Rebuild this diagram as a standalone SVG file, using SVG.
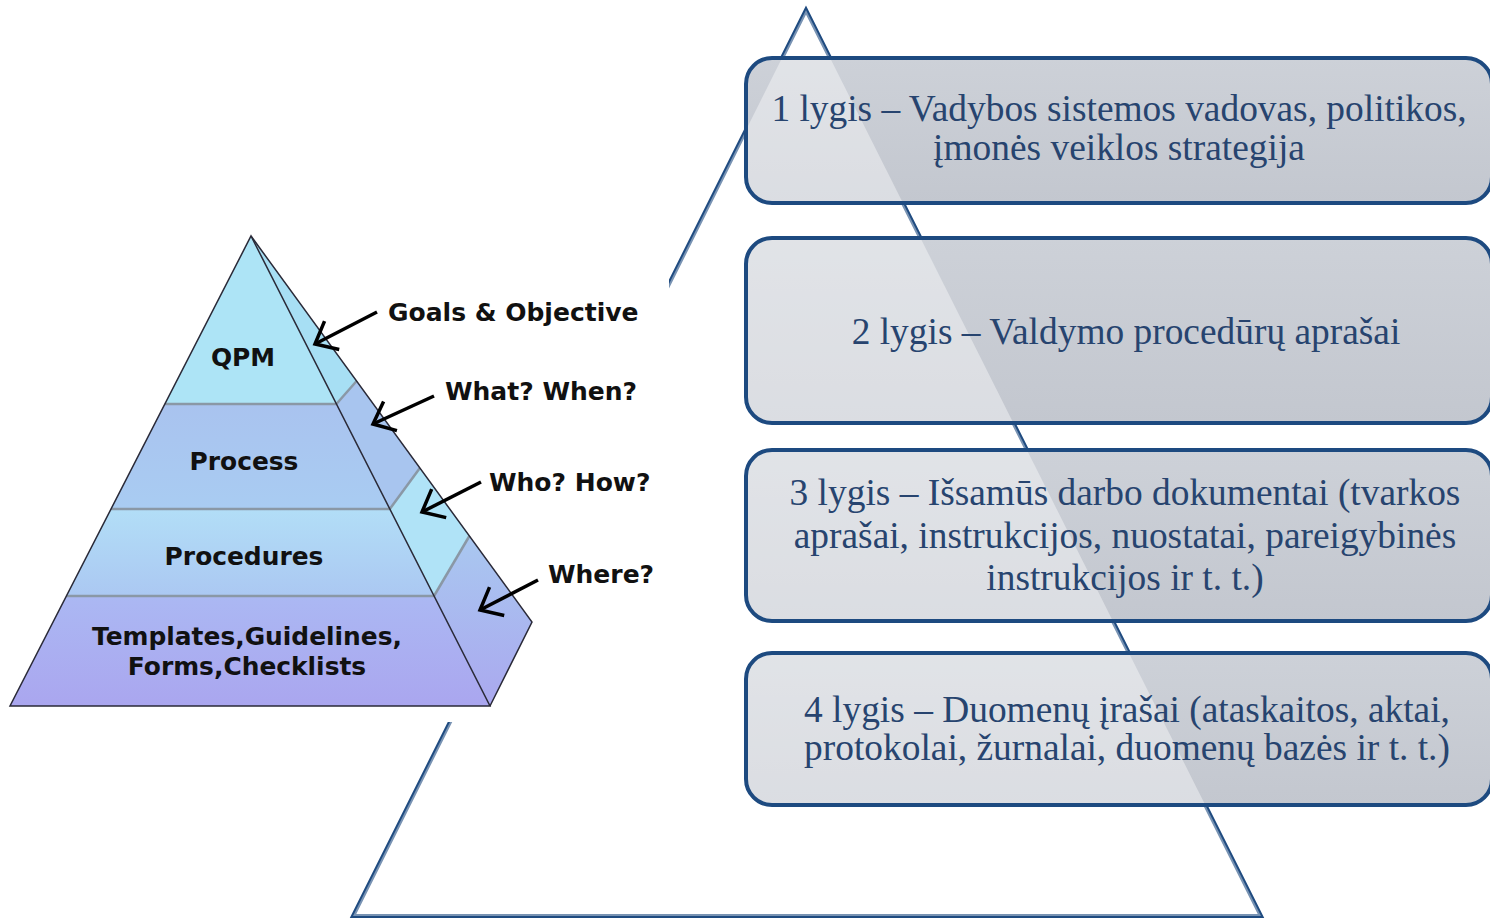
<svg xmlns="http://www.w3.org/2000/svg" width="1490" height="918" viewBox="0 0 1490 918">
<defs>
<style>
.bx{fill:url(#boxg);stroke:none}
.bxs{fill:none;stroke:#1d4a80;stroke-width:4}
.bt{font-family:"Liberation Serif","Times New Roman",serif;font-size:37.4px;fill:#27446f;text-anchor:middle}
.pt{font-family:"DejaVu Sans",Verdana,sans-serif;font-weight:bold;font-size:24.9px;fill:#111;text-anchor:middle}
.lb{font-family:"DejaVu Sans",Verdana,sans-serif;font-weight:bold;font-size:25px;fill:#111}
.sep{stroke:#8a98a6;stroke-width:2.5;fill:none}
.edge{stroke:#2a2a38;stroke-width:1.5;fill:none}
.arr{stroke:#000;stroke-width:3.5;fill:none;marker-end:url(#v)}
</style>
<linearGradient id="boxg" x1="0" y1="0" x2="0" y2="1">
<stop offset="0" stop-color="#cdd1d8"/>
<stop offset="1" stop-color="#c3c7cf"/>
</linearGradient>
<linearGradient id="g2" x1="0" y1="0" x2="0" y2="1">
<stop offset="0" stop-color="#a9c3ef"/><stop offset="1" stop-color="#a9ccf2"/>
</linearGradient>
<linearGradient id="g3" x1="0" y1="0" x2="0" y2="1">
<stop offset="0" stop-color="#b2def7"/><stop offset="1" stop-color="#abc8f2"/>
</linearGradient>
<linearGradient id="g4" x1="0" y1="0" x2="0" y2="1">
<stop offset="0" stop-color="#abb8f3"/><stop offset="1" stop-color="#aaa6ef"/>
</linearGradient>
<linearGradient id="g5" x1="0" y1="0" x2="0" y2="1">
<stop offset="0" stop-color="#a9c8f0"/><stop offset="1" stop-color="#aaa8ef"/>
</linearGradient>
<marker id="v" markerUnits="userSpaceOnUse" markerWidth="50" markerHeight="50" viewBox="-25 -25 50 50" refX="0" refY="0" orient="auto" overflow="visible">
<path d="M-19,-16 L0,0 L-19,16" fill="none" stroke="#000" stroke-width="3.5"/>
</marker>
</defs>
<rect width="1490" height="918" fill="#fff"/>

<g id="big-triangle-outline">
<polygon points="806,10 353,916 1261,916" fill="none" stroke="#1f4b80" stroke-width="4" stroke-linejoin="miter"/>
</g>

<g id="level-boxes-fill">
<rect class="bx" x="746" y="58" width="746" height="145" rx="26"/>
<rect class="bx" x="746" y="238" width="746" height="185" rx="26"/>
<rect class="bx" x="746" y="450" width="746" height="171" rx="26"/>
<rect class="bx" x="746" y="653" width="746" height="152" rx="26"/>
</g>
<polygon id="triangle-glow" points="806,10 353,916 1261,916" fill="#ffffff" fill-opacity="0.4"/>

<g id="level1">
<rect class="bxs" x="746" y="58" width="746" height="145" rx="26"/>
<text class="bt" x="1119" y="121">1 lygis – Vadybos sistemos vadovas, politikos,</text>
<text class="bt" x="1119" y="160">įmonės veiklos strategija</text>
</g>
<g id="level2">
<rect class="bxs" x="746" y="238" width="746" height="185" rx="26"/>
<text class="bt" x="1126" y="344">2 lygis – Valdymo procedūrų aprašai</text>
</g>
<g id="level3">
<rect class="bxs" x="746" y="450" width="746" height="171" rx="26"/>
<text class="bt" x="1125" y="505">3 lygis – Išsamūs darbo dokumentai (tvarkos</text>
<text class="bt" x="1125" y="548">aprašai, instrukcijos, nuostatai, pareigybinės</text>
<text class="bt" x="1125" y="590">instrukcijos ir t. t.)</text>
</g>
<g id="level4">
<rect class="bxs" x="746" y="653" width="746" height="152" rx="26"/>
<text class="bt" x="1127" y="722">4 lygis – Duomenų įrašai (ataskaitos, aktai,</text>
<text class="bt" x="1127" y="760">protokolai, žurnalai, duomenų bazės ir t. t.)</text>
</g>

<rect id="left-image-backdrop" x="0" y="222" width="669" height="500" fill="#fff"/>

<g id="pyramid-right-face">
<polygon points="251,236 356.6,381 336.4,404" fill="#a7dff4"/>
<polygon points="336.4,404 356.6,381 419.9,468 389.8,509" fill="#a8c5ef"/>
<polygon points="389.8,509 419.9,468 469.4,536 434,596" fill="#b0e3f7"/>
<polygon points="434,596 469.4,536 532,622 490,706" fill="url(#g5)"/>
<line class="sep" x1="336.4" y1="404" x2="356.6" y2="381"/>
<line class="sep" x1="389.8" y1="509" x2="419.9" y2="468"/>
<line class="sep" x1="434" y1="596" x2="469.4" y2="536"/>
<polyline class="edge" points="251,236 532,622 490,706"/>
</g>
<g id="pyramid-qpm">
<polygon points="251,236 336.4,404 164.8,404" fill="#ade4f6"/>
<text class="pt" x="243" y="366">QPM</text>
</g>
<g id="pyramid-process">
<polygon points="164.8,404 336.4,404 389.8,509 111,509" fill="url(#g2)"/>
<text class="pt" x="244" y="470">Process</text>
</g>
<g id="pyramid-procedures">
<polygon points="111,509 389.8,509 434,596 66.4,596" fill="url(#g3)"/>
<text class="pt" x="244" y="565">Procedures</text>
</g>
<g id="pyramid-templates">
<polygon points="66.4,596 434,596 490,706 10,706" fill="url(#g4)"/>
<text class="pt" x="247" y="645">Templates,Guidelines,</text>
<text class="pt" x="247" y="675">Forms,Checklists</text>
</g>
<g id="pyramid-lines">
<line class="sep" x1="164.8" y1="404" x2="336.4" y2="404"/>
<line class="sep" x1="111" y1="509" x2="389.8" y2="509"/>
<line class="sep" x1="66.4" y1="596" x2="434" y2="596"/>
<polygon class="edge" points="251,236 490,706 10,706"/>
</g>

<g id="label-goals"><text class="lb" x="388" y="321">Goals &amp; Objective</text></g>
<g id="label-what"><text class="lb" x="445" y="400">What? When?</text></g>
<g id="label-who"><text class="lb" x="489" y="491">Who? How?</text></g>
<g id="label-where"><text class="lb" x="548" y="583">Where?</text></g>

<g id="connectors">
<line class="arr" x1="377" y1="312" x2="315" y2="344"/>
<line class="arr" x1="434" y1="396" x2="373" y2="424"/>
<line class="arr" x1="481" y1="482" x2="422" y2="512"/>
<line class="arr" x1="538" y1="580" x2="480" y2="610"/>
</g>
</svg>
